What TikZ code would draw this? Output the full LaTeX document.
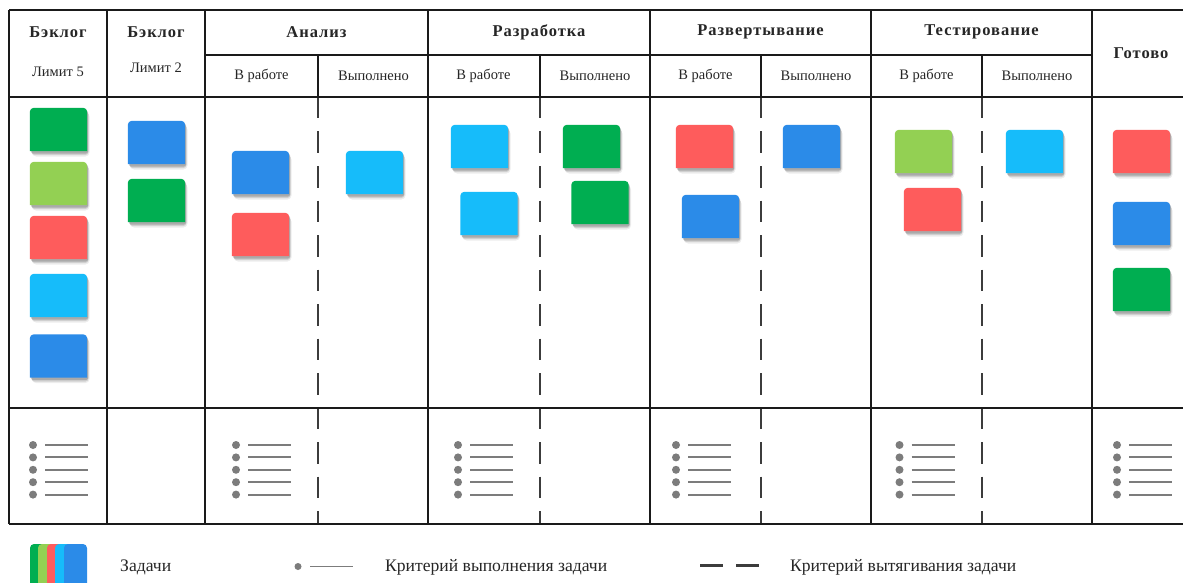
\documentclass[tikz,border=0pt]{standalone}
\usepackage{fontspec}
\setmainfont{Liberation Serif}
\newfontfamily\hdfont[LetterSpace=6]{Liberation Serif}
\definecolor{cgreen}{HTML}{00AE51}
\definecolor{clight}{HTML}{93D053}
\definecolor{cred}{HTML}{FE5C5C}
\definecolor{ccyan}{HTML}{16BCFA}
\definecolor{cblue}{HTML}{2B8BE8}
\definecolor{grid}{HTML}{1A1A1A}
\definecolor{txt}{HTML}{262626}
\definecolor{crit}{HTML}{7C7C7C}
\tikzset{
  gridline/.style={draw=grid, line width=1.8pt},
  pullline/.style={draw=grid!85, line width=2pt, dash pattern=on 21.5pt off 13pt},
  hdtitle/.style={font=\hdfont\bfseries\fontsize{16.5}{18}\selectfont, text=txt, inner sep=0pt},
  subtitle/.style={font=\fontsize{14.5}{16}\selectfont, text=txt, inner sep=0pt},
  legtext/.style={font=\fontsize{17.6}{19}\selectfont, text=txt, inner sep=0pt, anchor=west},
  cardbox/.style={rectangle, minimum width=57pt, minimum height=43pt, inner sep=0pt, draw=none},
  critdot/.style={circle, fill=crit, minimum size=8pt, inner sep=0pt},
  critline/.style={draw=crit, line width=2pt},
  pulllegend/.style={draw=grid!85, line width=2.3pt},
}
\newcommand\kcard[4]{% name, x, y, colour
  \fill[black, opacity=0.07, rounded corners=4pt] (#2-26.5,#3-17) rectangle (#2+31,#3+27);
  \fill[black, opacity=0.12, rounded corners=3pt] (#2-27,#3-18) rectangle (#2+30,#3+25.5);
  \fill[black, opacity=0.18, rounded corners=2pt] (#2-27.5,#3-19) rectangle (#2+29.5,#3+24);
  \node[cardbox] (#1) at (#2,#3) {};
  \fill[#4] (#1.south west) [rounded corners=4pt] -- (#1.north west) -- (#1.north east) [sharp corners] -- (#1.south east) -- cycle;
}
\newcommand\critlist[3]{% name prefix, dot x, first y
  \foreach \i in {0,1,2,3,4}{
    \node[critdot] (#1d\i) at (#2,#3+12.4*\i) {};
    \coordinate (#1s\i) at (#2+12,#3+12.4*\i);
    \coordinate (#1e\i) at (#2+55,#3+12.4*\i);
    \draw[critline] (#1s\i) -- (#1e\i);
  }
}
\begin{document}
\begin{tikzpicture}[x=1pt,y=-1pt]
\useasboundingbox (0,0) rectangle (1183,583);
\fill[white] (0,0) rectangle (1183,583);

% grid coordinates
\foreach \n/\x in {a/9,b/107,c/205,d/428,e/650,f/871,g/1092}{
  \coordinate (\n t) at (\x,10);
  \coordinate (\n b) at (\x,524);
}
\foreach \n/\x in {p/318,q/540,r/761,s/982}{
  \coordinate (\n m) at (\x,55);
  \coordinate (\n h) at (\x,97);
  \coordinate (\n b) at (\x,524);
}
\coordinate (L10) at (9,10);   \coordinate (R10) at (1183,10);
\coordinate (L97) at (9,97);   \coordinate (R97) at (1183,97);
\coordinate (L408) at (9,408); \coordinate (R408) at (1183,408);
\coordinate (L524) at (9,524); \coordinate (R524) at (1183,524);
\coordinate (M55l) at (205,55); \coordinate (M55r) at (1092,55);

% pull criteria (dashed)
\foreach \n in {p,q,r,s}{
  \draw[pullline] (\n h) -- (\n b);
  \draw[gridline] (\n m) -- (\n h);
}
% grid
\foreach \n in {a,b,c,d,e,f,g}{ \draw[gridline] (\n t) -- (\n b); }
\draw[gridline] (L10) -- (R10);
\draw[gridline] (L97) -- (R97);
\draw[gridline] (L408) -- (R408);
\draw[gridline, line width=2.2pt] (L524) -- (R524);
\draw[gridline] (M55l) -- (M55r);

% header texts
\node[hdtitle] (h1) at (58,32) {Бэклог};
\node[subtitle] (l1) at (58,72) {Лимит 5};
\node[hdtitle] (h2) at (156,32) {Бэклог};
\node[subtitle] (l2) at (156,68) {Лимит 2};
\node[hdtitle] (h3) at (316.5,32) {Анализ};
\node[hdtitle] (h4) at (539,32) {Разработка};
\node[hdtitle] (h5) at (760.5,32) {Развертывание};
\node[hdtitle] (h6) at (981.5,32) {Тестирование};
\node[hdtitle] (h7) at (1141,53) {Готово};
\foreach \k/\a/\b in {3/261.5/373.5, 4/483.5/595, 5/705.5/816, 6/926.5/1037}{
  \node[subtitle] (w\k) at (\a,76) {В работе};
  \node[subtitle] (v\k) at (\b,76) {Выполнено};
}

% cards
\kcard{b1}{58.5}{129.5}{cgreen}
\kcard{b2}{58.5}{183.5}{clight}
\kcard{b3}{58.5}{237.5}{cred}
\kcard{b4}{58.5}{295.5}{ccyan}
\kcard{b5}{58.5}{356}{cblue}
\kcard{k1}{156.5}{142.5}{cblue}
\kcard{k2}{156.5}{200.5}{cgreen}
\kcard{a1}{260.5}{172.5}{cblue}
\kcard{a2}{260.5}{234.5}{cred}
\kcard{a3}{374.5}{172.5}{ccyan}
\kcard{d1}{479.5}{146.5}{ccyan}
\kcard{d2}{489}{213.5}{ccyan}
\kcard{d3}{591.5}{146.5}{cgreen}
\kcard{d4}{600}{202.5}{cgreen}
\kcard{r1}{704.5}{146.5}{cred}
\kcard{r2}{710.5}{216.5}{cblue}
\kcard{r3}{811.5}{146.5}{cblue}
\kcard{t1}{923.5}{151.5}{clight}
\kcard{t2}{932.5}{209.5}{cred}
\kcard{t3}{1034.5}{151.5}{ccyan}
\kcard{g1}{1141.5}{151.5}{cred}
\kcard{g2}{1141.5}{223.5}{cblue}
\kcard{g3}{1141.5}{289.5}{cgreen}

% done criteria
\critlist{cb}{33}{445}
\critlist{ca}{236}{445}
\critlist{cd}{458}{445}
\critlist{cr}{676}{445}
\critlist{ct}{899.5}{445}
\critlist{cg}{1117}{445}

% legend
\foreach \c/\x in {cgreen/30, clight/38, cred/47, ccyan/55, cblue/64}{
  \fill[\c, rounded corners=4pt] (\x,544) rectangle (\x+23,590);
}
\node[legtext] (lt1) at (120,567) {Задачи};
\node[critdot, minimum size=7pt] (ld) at (298,566.5) {};
\coordinate (lls) at (310,566.5);
\coordinate (lle) at (353,566.5);
\draw[critline, line width=1.5pt] (lls) -- (lle);
\node[legtext] (lt2) at (385,567) {Критерий выполнения задачи};
\coordinate (pd1s) at (700,565.5); \coordinate (pd1e) at (723,565.5);
\coordinate (pd2s) at (736,565.5); \coordinate (pd2e) at (759,565.5);
\draw[pulllegend] (pd1s) -- (pd1e);
\draw[pulllegend] (pd2s) -- (pd2e);
\node[legtext] (lt3) at (790,567) {Критерий вытягивания задачи};
\end{tikzpicture}
\end{document}
